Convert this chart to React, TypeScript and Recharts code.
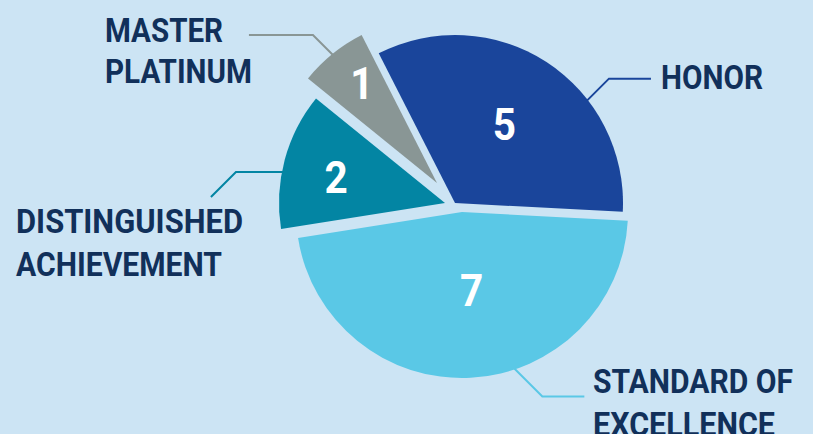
import { PieChart, Pie, Cell } from 'recharts';

const categories = ['HONOR', 'STANDARD OF EXCELLENCE', 'DISTINGUISHED ACHIEVEMENT', 'MASTER PLATINUM'];
const counts = [5, 7, 2, 1];
const labelLines = [['HONOR'], ['STANDARD OF', 'EXCELLENCE'], ['DISTINGUISHED', 'ACHIEVEMENT'], ['MASTER', 'PLATINUM']];

const data = categories.map((name, i) => ({ name, value: counts[i] }));

const BG = '#cce4f4';
const TEXT = '#11305a';
const COLORS = ['#1a459b', '#5ac8e6', '#0385a3', '#899695'];
const FONT = 'Roboto, "Liberation Sans Narrow", sans-serif';

// every slice sits on its own center so the pie looks pulled apart
const SLICES = [
  { cx: 455, cy: 203, r: 168, numR: 93, numShift: 1, lead: 37.8, elbow: [22, -22], end: [64, -22], tx: 661, ty: [89], tw: [102] },
  { cx: 462, cy: 212, r: 166, numR: 79, numShift: 4, lead: -71.5, elbow: [28, 28], end: [70, 28], tx: 593, ty: [393, 436], tw: [200, 182] },
  { cx: 445, cy: 203, r: 166, numR: 112, numShift: 1.6, lead: 169.2, elbow: [-47, 0], end: [-72, 25], tx: 16, ty: [233, 276], tw: [227, 206] },
  { cx: 437, cy: 183, r: 166, numR: 125, numShift: -2, lead: 129.1, elbow: [-20, -20], end: [-84, -20], tx: 105, ty: [42, 83], tw: [118, 147] },
];

const RAD = Math.PI / 180;

function makeLabel(slot: number) {
  return (props: any) => {
    if (props.index !== slot) return null;
    const s = SLICES[slot];
    const { cx, cy, midAngle, value } = props;
    const a = (midAngle + s.numShift) * RAD;
    const nx = cx + s.numR * Math.cos(a);
    const ny = cy - s.numR * Math.sin(a);
    const la = s.lead * RAD;
    const px = cx + (s.r - 1) * Math.cos(la);
    const py = cy - (s.r - 1) * Math.sin(la);
    const pts = `${px},${py} ${px + s.elbow[0]},${py + s.elbow[1]} ${px + s.end[0]},${py + s.end[1]}`;
    return (
      <g>
        <text x={nx} y={ny} textAnchor="middle" dominantBaseline="central" fill="#ffffff"
          fontFamily={FONT} fontWeight="bold" fontSize={45} transform={`translate(${nx} 0) scale(0.9 1) translate(${-nx} 0)`}>
          {value}
        </text>
        <polyline points={pts} fill="none" stroke={COLORS[slot]} strokeWidth={2} />
        {labelLines[slot].map((line, k) => (
          <text key={k} x={s.tx} y={s.ty[k]} fill={TEXT} fontFamily={FONT} fontWeight="bold" fontSize={34}
            textLength={s.tw[k]} lengthAdjust="spacingAndGlyphs">
            {line}
          </text>
        ))}
      </g>
    );
  };
}

export default function App() {
  return (
    <div style={{ position: 'fixed', left: 0, top: 0, width: 813, height: 434, background: BG, overflow: 'hidden' }}>
      <PieChart width={813} height={434} margin={{ top: 0, right: 0, bottom: 0, left: 0 }}>
        {SLICES.map((s, slot) => (
          <Pie
            key={slot}
            data={data}
            dataKey="value"
            nameKey="name"
            cx={s.cx}
            cy={s.cy}
            innerRadius={0}
            outerRadius={s.r}
            startAngle={117}
            endAngle={-243}
            stroke="none"
            labelLine={false}
            label={makeLabel(slot)}
            isAnimationActive={false}
          >
            {data.map((d, i) => (
              <Cell key={d.name} fill={i === slot ? COLORS[i] : 'transparent'} stroke="none" />
            ))}
          </Pie>
        ))}
      </PieChart>
    </div>
  );
}
